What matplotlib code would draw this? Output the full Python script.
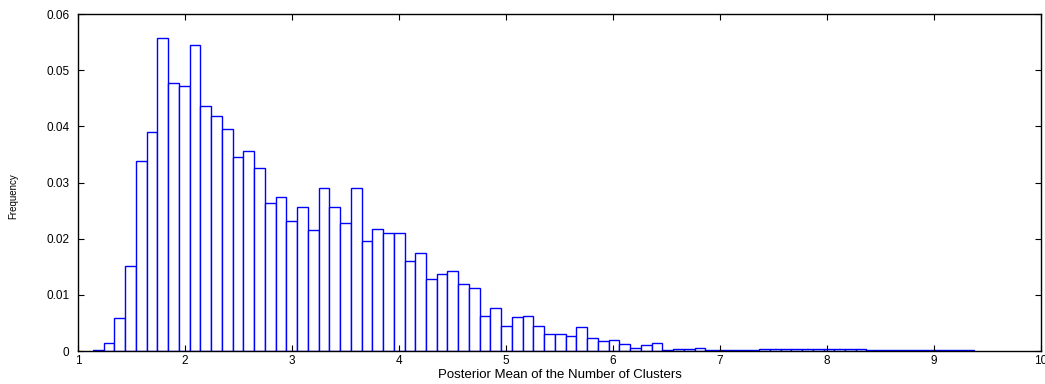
import numpy as np
import matplotlib
matplotlib.use("Agg")
import matplotlib.pyplot as plt

plt.rcParams["font.family"] = ["Liberation Sans", "DejaVu Sans"]

# histogram of posterior mean number of clusters (bin edges start at 1.14, width ~0.1)
bin_start = 1.14
bin_width = 0.1004
freq = [
    0.0002, 0.0014, 0.0058, 0.0152, 0.0338, 0.0390, 0.0557, 0.0477, 0.0472, 0.0544,
    0.0436, 0.0418, 0.0395, 0.0346, 0.0356, 0.0326, 0.0264, 0.0274, 0.0232, 0.0256,
    0.0216, 0.0291, 0.0256, 0.0228, 0.0290, 0.0196, 0.0217, 0.0210, 0.0210, 0.0160,
    0.0174, 0.0128, 0.0137, 0.0142, 0.0119, 0.0112, 0.0062, 0.0076, 0.0044, 0.0060,
    0.0062, 0.0044, 0.0030, 0.0031, 0.0026, 0.0042, 0.0024, 0.0018, 0.0020, 0.0012,
    0.0006, 0.0010, 0.0014, 0.0002, 0.0003, 0.0004, 0.0006, 0.0002, 0.0002, 0.0001,
    0.0001, 0.0002, 0.0004, 0.0004, 0.0004, 0.0004, 0.0004, 0.0004, 0.0004, 0.0004,
    0.0004, 0.0004, 0.0002, 0.0002, 0.0002, 0.0002, 0.0002, 0.0002, 0.0002, 0.0002,
    0.0002, 0.0002,
]
x_ticks = [1, 2, 3, 4, 5, 6, 7, 8, 9, 10]
y_ticks = [0, 0.01, 0.02, 0.03, 0.04, 0.05, 0.06]
y_tick_labels = ["0", "0.01", "0.02", "0.03", "0.04", "0.05", "0.06"]

lefts = bin_start + bin_width * np.arange(len(freq))

fig = plt.figure(figsize=(10.45, 3.84), dpi=100)
ax = fig.add_axes([0.0746, 0.0859, 0.9216, 0.8776])

ax.bar(lefts, freq, width=bin_width, align="edge", facecolor="white",
       edgecolor="#0000ff", linewidth=1.0)

ax.set_xlim(1, 10)
ax.set_ylim(0, 0.06)
ax.set_xticks(x_ticks)
ax.set_xticklabels([str(t) for t in x_ticks])
ax.set_yticks(y_ticks)
ax.set_yticklabels(y_tick_labels)
ax.tick_params(direction="in", length=4, width=0.8, labelsize=8.5,
               top=True, right=True)
ax.tick_params(axis="x", pad=3)
ax.tick_params(axis="y", pad=6)
for spine in ax.spines.values():
    spine.set_linewidth(1.0)
    spine.set_color("black")

ax.set_xlabel("Posterior Mean of the Number of Clusters", fontsize=9.5)
ax.xaxis.set_label_coords(0.5, -0.053)
ax.set_ylabel("Frequency", fontsize=7)
ax.yaxis.set_label_coords(-0.062, 0.46)

fig.savefig("out.png", dpi=100)
